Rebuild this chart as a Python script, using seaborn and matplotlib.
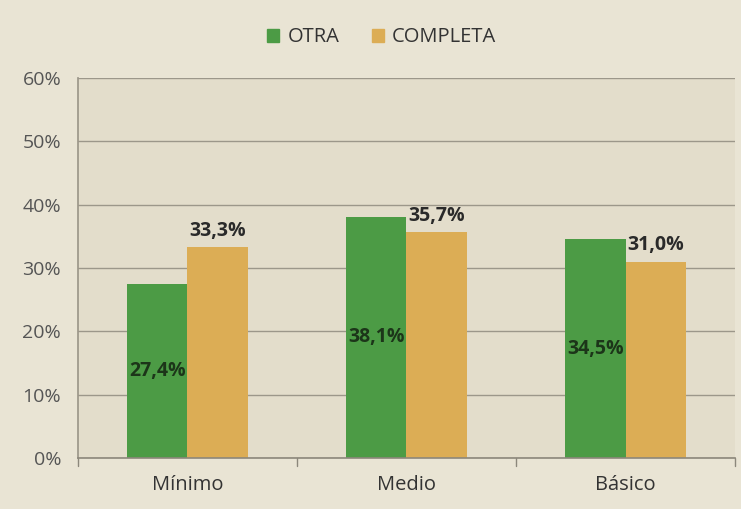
import matplotlib
matplotlib.use("Agg")
import matplotlib.pyplot as plt
import seaborn as sns
import pandas as pd

categories = ["Mínimo", "Medio", "Básico"]
series = ["OTRA", "COMPLETA"]
otra = [27.4, 38.1, 34.5]
completa = [33.3, 35.7, 31.0]
yticks = [0, 10, 20, 30, 40, 50, 60]

df = pd.DataFrame({
    "cat": categories * 2,
    "serie": [series[0]] * 3 + [series[1]] * 3,
    "val": otra + completa,
})

sns.set_theme(style="white")
plt.rcParams["font.family"] = ["Open Sans", "DejaVu Sans"]

bg = "#e3ddcb"
fig = plt.figure(figsize=(7.41, 5.09), dpi=100)
fig.patch.set_facecolor("#e9e4d4")
ax = fig.add_axes([0.105, 0.10, 0.887, 0.747])
ax.set_facecolor(bg)

palette = {"OTRA": "#4c9b45", "COMPLETA": "#dcad55"}
sns.barplot(data=df, x="cat", y="val", hue="serie", palette=palette,
            width=0.55, dodge=True, ax=ax, legend=False, saturation=1,
            linewidth=0, edgecolor="none")

ax.set_ylim(0, 60)
ax.set_xlim(-0.5, 2.5)
ax.set_yticks(yticks)
ax.set_yticklabels([f"{t}%" for t in yticks], color="#555555", fontsize=14)
ax.tick_params(axis="y", length=0, pad=12)
ax.tick_params(axis="x", length=0, pad=12, labelsize=14.5, labelcolor="#333333")
ax.set_xlabel("")
ax.set_ylabel("")
ax.yaxis.grid(True, color="#9c978a", linewidth=1)
ax.set_axisbelow(True)
for s in ["top", "right"]:
    ax.spines[s].set_visible(False)
ax.spines["left"].set_color("#9c978a")
ax.spines["bottom"].set_color("#8c877b")
ax.spines["bottom"].set_linewidth(1.2)

# tick marks at category boundaries
for xb in [-0.5, 0.5, 1.5, 2.5]:
    ax.plot([xb, xb], [0, -1.2], color="#8c877b", lw=1, clip_on=False)

def fmt(v):
    return f"{v:.1f}%".replace(".", ",")

bars_otra = ax.containers[0]
bars_comp = ax.containers[1]
for b, v in zip(bars_otra, otra):
    ax.text(b.get_x() + b.get_width() / 2, v / 2, fmt(v), ha="center", va="center",
            fontsize=14, fontweight="bold", color="#1c3519")
for b, v in zip(bars_comp, completa):
    ax.text(b.get_x() + b.get_width() / 2, v + 1.0, fmt(v), ha="center", va="bottom",
            fontsize=14, fontweight="bold", color="#2a2a2a")

handles = [plt.Rectangle((0, 0), 1, 1, color=palette[s]) for s in series]
fig.legend(handles, series, loc="upper center", bbox_to_anchor=(0.515, 0.982), ncol=2,
           frameon=False, fontsize=14.5, handlelength=0.6, handleheight=0.6,
           columnspacing=1.6, handletextpad=0.4, labelcolor="#333333")

fig.savefig("out.png", dpi=100, facecolor=fig.get_facecolor())
